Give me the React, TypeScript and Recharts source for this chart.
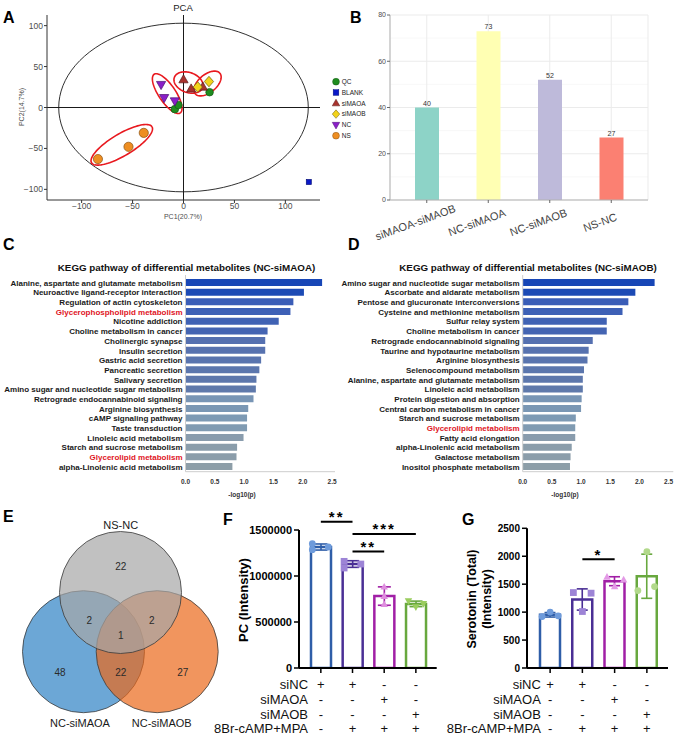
import React from 'react'
import {
  Bar,
  BarChart,
  CartesianGrid,
  Cell,
  ComposedChart,
  ErrorBar,
  LabelList,
  ReferenceLine,
  Scatter,
  ScatterChart,
  XAxis,
  YAxis,
} from 'recharts'

const FONT = '"Liberation Sans", Arial, Helvetica, sans-serif'

// ---- A: PCA scores (PC1 %, PC2 %)
const QC_PTS = [{ x: -8.5, y: -2 }, { x: -5, y: 3 }, { x: 25.6, y: 18.7 }]
const BLANK_PTS = [{ x: 123, y: -91 }]
const SIMAOA_PTS = [{ x: 0, y: 34 }, { x: 7.5, y: 22.7 }, { x: 19, y: 25 }]
const SIMAOB_PTS = [{ x: 14, y: 25 }, { x: 25, y: 31.7 }]
const NC_PTS = [{ x: -22, y: 28 }, { x: -19, y: 12 }, { x: -8.5, y: 8 }]
const NS_PTS = [{ x: -84, y: -63 }, { x: -54, y: -48 }, { x: -39, y: -31 }]
const PCA_TICKS = [-100, -50, 0, 50, 100]

// ellipses: centre + two conjugate semi-axis vectors, in data units
const CONFIDENCE = { cx: 0, cy: 0, ux: 122.5, uy: 0, vx: 0, vy: 103 }
const GROUP_RINGS = [
  { cx: -16, cy: 17, ux: 12.8, uy: -23.6, vx: -6.9, vy: -5.8 },
  { cx: 4.9, cy: 30.5, ux: 13.9, uy: -6.2, vx: -3.3, vy: -11.5 },
  { cx: 23.6, cy: 29.3, ux: 12.1, uy: 12.6, vx: 5.7, vy: -8.4 },
  { cx: -60.6, cy: -45.6, ux: 29.7, uy: 22, vx: 5.5, vy: -11.5 },
]

// ---- B: number of differential metabolites
const B_COMPARISONS = ['siMAOA-siMAOB', 'NC-siMAOA', 'NC-siMAOB', 'NS-NC']
const B_COUNTS = [40, 73, 52, 27]
const B_COLORS = ['#8DD3C7', '#FFFFB3', '#BEBADA', '#FB8072']

// ---- C / D: KEGG enrichment, -log10(p)
const C_PATHWAYS = [
  'Alanine, aspartate and glutamate metabolism',
  'Neuroactive ligand-receptor interaction',
  'Regulation of actin cytoskeleton',
  'Glycerophospholipid metabolism',
  'Nicotine addiction',
  'Choline metabolism in cancer',
  'Cholinergic synapse',
  'Insulin secretion',
  'Gastric acid secretion',
  'Pancreatic secretion',
  'Salivary secretion',
  'Amino sugar and nucleotide sugar metabolism',
  'Retrograde endocannabinoid signaling',
  'Arginine biosynthesis',
  'cAMP signaling pathway',
  'Taste transduction',
  'Linoleic acid metabolism',
  'Starch and sucrose metabolism',
  'Glycerolipid metabolism',
  'alpha-Linolenic acid metabolism',
]
const C_VALUES = [2.33, 2.02, 1.84, 1.79, 1.59, 1.4, 1.36, 1.36, 1.29, 1.26, 1.21, 1.2, 1.16, 1.07, 1.05, 1.05, 0.99, 0.88, 0.87, 0.8]
const D_PATHWAYS = [
  'Amino sugar and nucleotide sugar metabolism',
  'Ascorbate and aldarate metabolism',
  'Pentose and glucuronate interconversions',
  'Cysteine and methionine metabolism',
  'Sulfur relay system',
  'Choline metabolism in cancer',
  'Retrograde endocannabinoid signaling',
  'Taurine and hypotaurine metabolism',
  'Arginine biosynthesis',
  'Selenocompound metabolism',
  'Alanine, aspartate and glutamate metabolism',
  'Linoleic acid metabolism',
  'Protein digestion and absorption',
  'Central carbon metabolism in cancer',
  'Starch and sucrose metabolism',
  'Glycerolipid metabolism',
  'Fatty acid elongation',
  'alpha-Linolenic acid metabolism',
  'Galactose metabolism',
  'Inositol phosphate metabolism',
]
const D_VALUES = [2.26, 1.93, 1.81, 1.71, 1.44, 1.44, 1.2, 1.13, 1.11, 1.05, 1.03, 1.03, 1.01, 1.0, 0.91, 0.9, 0.9, 0.84, 0.82, 0.81]
const HIGHLIGHTED = ['Glycerophospholipid metabolism', 'Glycerolipid metabolism']
const KEGG_TICKS = [0, 0.5, 1, 1.5, 2, 2.5]

// ---- E: Venn counts
const VENN_SETS = ['NC-siMAOA', 'NC-siMAOB', 'NS-NC']
// NS only, NS&A, NS&B, all three, A only, A&B, B only
const VENN_COUNTS = [22, 2, 2, 1, 48, 22, 27]

// ---- F / G: intensities
const GROUPS = ['g1', 'g2', 'g3', 'g4']
const TREATMENTS = ['siNC', 'siMAOA', 'siMAOB', '8Br-cAMP+MPA']
const TREATMENT_SIGNS = [
  ['+', '+', '-', '-'],
  ['-', '-', '+', '-'],
  ['-', '-', '-', '+'],
  ['-', '+', '+', '+'],
]
const F_MEANS = [1315000, 1130000, 782000, 697000]
const F_SDS = [33000, 36000, 100000, 30000]
const F_POINTS = [
  [1351000, 1286000, 1315000],
  [1159000, 1087000, 1130000],
  [880000, 690000, 778000],
  [730000, 665000, 700000],
]
const F_TICKS = [0, 500000, 1000000, 1500000]
const G_MEANS = [952, 1226, 1553, 1642]
const G_SDS = [40, 190, 80, 395]
const G_POINTS = [
  [921, 1000, 934],
  [1350, 1011, 1339],
  [1625, 1457, 1577],
  [1386, 2082, 1457],
]
const G_TICKS = [0, 500, 1000, 1500, 2000, 2500]

// ---- styles
const BOX = '#CDCDCD'
const KEGG_SHADES = [
  '#1746B6', '#1C4AB5', '#3A5DB7', '#3D60B6', '#4062B4', '#4464B2', '#5570B0', '#5772AF', '#5974AE', '#5B76AD',
  '#5D77AC', '#5F79AB', '#7895B5', '#7A97B4', '#7D9AB4', '#809BB2', '#899CAD', '#8A9DAB', '#8B9DAA', '#8D9EA8',
]
const BAR_STROKES = ['#2F5EA8', '#4A2F95', '#A11FA6', '#68A83E']

function Marker({ kind, cx, cy, s, fill, stroke = 'none', sw = 0.6 }: any) {
  if (kind === 'circle') return <circle cx={cx} cy={cy} r={s} fill={fill} stroke={stroke} strokeWidth={sw} />
  if (kind === 'square')
    return <rect x={cx - s} y={cy - s} width={2 * s} height={2 * s} fill={fill} stroke={stroke} strokeWidth={sw} />
  if (kind === 'triangle')
    return (
      <polygon
        points={`${cx},${cy - s * 1.2} ${cx + s * 1.1},${cy + s * 0.75} ${cx - s * 1.1},${cy + s * 0.75}`}
        fill={fill}
        stroke={stroke}
        strokeWidth={sw}
      />
    )
  if (kind === 'triangleDown')
    return (
      <polygon
        points={`${cx},${cy + s * 1.2} ${cx + s * 1.1},${cy - s * 0.75} ${cx - s * 1.1},${cy - s * 0.75}`}
        fill={fill}
        stroke={stroke}
        strokeWidth={sw}
      />
    )
  return (
    <polygon
      points={`${cx},${cy - s * 1.25} ${cx + s * 1.1},${cy} ${cx},${cy + s * 1.25} ${cx - s * 1.1},${cy}`}
      fill={fill}
      stroke={stroke}
      strokeWidth={sw}
    />
  )
}

const PCA_GROUPS = [
  { name: 'QC', data: QC_PTS, kind: 'circle', fill: '#1E8C1E', edge: '#145A14', s: 3.8 },
  { name: 'BLANK', data: BLANK_PTS, kind: 'square', fill: '#0A18C8', edge: '#06107A', s: 2.5 },
  { name: 'siMAOA', data: SIMAOA_PTS, kind: 'triangle', fill: '#A8322D', edge: '#5A1A18', s: 4.2 },
  { name: 'siMAOB', data: SIMAOB_PTS, kind: 'diamond', fill: '#F2D31B', edge: '#6B5A10', s: 4.2 },
  { name: 'NC', data: NC_PTS, kind: 'triangleDown', fill: '#8A1FC8', edge: '#4A1070', s: 4.2 },
  { name: 'NS', data: NS_PTS, kind: 'circle', fill: '#EE8E22', edge: '#8A5214', s: 4.6 },
]

function ring(e: typeof CONFIDENCE) {
  const pts = []
  for (let i = 0; i <= 96; i++) {
    const t = (i / 96) * Math.PI * 2
    pts.push({
      x: e.cx + e.ux * Math.cos(t) + e.vx * Math.sin(t),
      y: e.cy + e.uy * Math.cos(t) + e.vy * Math.sin(t),
    })
  }
  return pts
}

const NoDot = () => <g />
const minus = (v: number) => String(v).replace('-', '\u2212')

function PcaPanel() {
  const axisTick = { fontSize: 8.5, fill: '#4D4D4D' }
  return (
    <ScatterChart width={370} height={225} margin={{ top: 15, right: 50, bottom: 0, left: 0 }}>
      <XAxis
        type="number"
        dataKey="x"
        domain={[-134, 134]}
        ticks={PCA_TICKS}
        allowDataOverflow
        height={25}
        tick={axisTick}
        tickSize={3}
        tickMargin={0}
        tickFormatter={minus}
        axisLine={{ stroke: '#333' }}
        tickLine={{ stroke: '#333' }}
      />
      <YAxis
        type="number"
        dataKey="y"
        domain={[-113, 113]}
        ticks={PCA_TICKS}
        allowDataOverflow
        width={47}
        tick={axisTick}
        tickSize={3}
        tickMargin={1}
        tickFormatter={minus}
        axisLine={{ stroke: '#333' }}
        tickLine={{ stroke: '#333' }}
      />
      <ReferenceLine x={0} stroke="#1a1a1a" strokeWidth={1} />
      <ReferenceLine y={0} stroke="#1a1a1a" strokeWidth={1} />
      <Scatter
        data={ring(CONFIDENCE)}
        line={{ stroke: '#1a1a1a', strokeWidth: 0.9 }}
        shape={NoDot}
        isAnimationActive={false}
        legendType="none"
      />
      {GROUP_RINGS.map((r, i) => (
        <Scatter
          key={i}
          data={ring(r)}
          line={{ stroke: '#E8191F', strokeWidth: 1.6 }}
          shape={NoDot}
          isAnimationActive={false}
          legendType="none"
        />
      ))}
      {PCA_GROUPS.map((g) => (
        <Scatter
          key={g.name}
          name={g.name}
          data={g.data}
          isAnimationActive={false}
          shape={(p: any) => <Marker kind={g.kind} cx={p.cx} cy={p.cy} s={g.s} fill={g.fill} stroke={g.edge} sw={0.7} />}
        />
      ))}
    </ScatterChart>
  )
}

function PcaLegend() {
  return (
    <svg style={{ position: 'absolute', left: 330, top: 75 }} width={45} height={68}>
      {PCA_GROUPS.map((g, i) => (
        <g key={g.name}>
          <Marker kind={g.kind} cx={6} cy={6.7 + i * 10.8} s={g.kind === 'square' ? 2.8 : 3.4} fill={g.fill} stroke={g.edge} sw={0.5} />
          <text x={11.7} y={9 + i * 10.8} fontSize={6.5} fill="#222">
            {g.name}
          </text>
        </g>
      ))}
    </svg>
  )
}

function RotTick({ x, y, payload }: any) {
  const ax = x - 10
  const ay = y + 21
  return (
    <text x={ax} y={ay} textAnchor="middle" fontSize={11} fill="#444" transform={`rotate(-20 ${ax} ${ay})`}>
      {payload.value}
    </text>
  )
}

function CountPanel() {
  const data = B_COMPARISONS.map((name, i) => ({ name, count: B_COUNTS[i] }))
  return (
    <BarChart width={340} height={245} data={data} margin={{ top: 15, right: 32, bottom: 0, left: 0 }} barSize={24}>
      <CartesianGrid stroke="#F3F3F3" strokeWidth={0.6} vertical={false} horizontalValues={[10, 30, 50, 70]} />
      <CartesianGrid stroke="#EBEBEB" strokeWidth={1} />
      <XAxis
        dataKey="name"
        interval={0}
        padding={{ left: 6, right: 6 }}
        height={45}
        tick={<RotTick />}
        tickSize={3}
        tickMargin={2}
        axisLine={{ stroke: '#B3B3B3' }}
        tickLine={{ stroke: '#666' }}
      />
      <XAxis xAxisId="top" orientation="top" dataKey="name" height={0} tick={false} tickLine={false} axisLine={{ stroke: '#B3B3B3' }} />
      <YAxis
        domain={[0, 80]}
        ticks={[0, 20, 40, 60, 80]}
        width={50}
        tick={{ fontSize: 7, fill: '#4D4D4D' }}
        tickSize={3}
        tickMargin={1}
        axisLine={{ stroke: '#B3B3B3' }}
        tickLine={{ stroke: '#666' }}
      />
      <YAxis yAxisId="right" orientation="right" width={0} tick={false} tickLine={false} axisLine={{ stroke: '#B3B3B3' }} />
      <Bar dataKey="count" isAnimationActive={false}>
        {data.map((d, i) => (
          <Cell key={d.name} fill={B_COLORS[i]} />
        ))}
        <LabelList dataKey="count" position="top" offset={2} fontSize={7} fill="#333" />
      </Bar>
    </BarChart>
  )
}

function PathwayTick({ x, y, payload }: any) {
  const red = HIGHLIGHTED.includes(payload.value)
  return (
    <text x={x} y={y} dy={2.9} textAnchor="end" fontSize={8} fontWeight="bold" fill={red ? '#E0141E' : '#1a1a1a'}>
      {payload.value}
    </text>
  )
}

function KeggPanel({ names, values, yWidth, right, max }: any) {
  const data = names.map((name: string, i: number) => ({ name, p: values[i] }))
  return (
    <BarChart layout="vertical" width={340} height={245} data={data} margin={{ top: 13, right, bottom: 0, left: 0 }} barSize={7}>
      <XAxis
        type="number"
        domain={[0, max]}
        ticks={KEGG_TICKS}
        allowDataOverflow
        tickFormatter={(v: number) => v.toFixed(1)}
        height={35.3}
        tickSize={0}
        tickMargin={8}
        tick={{ fontSize: 6.5, fontWeight: 'bold', fill: '#333' }}
        axisLine={{ stroke: BOX }}
      />
      <XAxis xAxisId="top" orientation="top" type="number" domain={[0, max]} height={0} tick={false} tickLine={false} axisLine={{ stroke: BOX }} />
      <YAxis
        type="category"
        dataKey="name"
        width={yWidth}
        interval={0}
        padding={{ top: 3, bottom: 0 }}
        tickSize={0}
        tickMargin={3}
        tick={<PathwayTick />}
        axisLine={{ stroke: BOX }}
      />
      <YAxis yAxisId="right" orientation="right" type="category" dataKey="name" width={0} tick={false} tickLine={false} axisLine={{ stroke: BOX }} />
      <Bar dataKey="p" isAnimationActive={false}>
        {data.map((d: any, i: number) => (
          <Cell key={d.name} fill={KEGG_SHADES[i]} />
        ))}
      </Bar>
    </BarChart>
  )
}

// Venn geometry (chart units are pixels of a 230x238 box)
const VENN_CIRCLES = [
  { x: 83.5, y: 151.7, r: 61, fill: '#2E81C4' },
  { x: 157.2, y: 151.7, r: 61, fill: '#EB6819' },
  { x: 120.5, y: 92.5, r: 61, fill: '#A6A6A6' },
]
const VENN_NAME_POS = [
  { x: 80, y: 223.3 },
  { x: 161.7, y: 223.3 },
  { x: 120.7, y: 25 },
]
const VENN_COUNT_POS = [
  { x: 120.7, y: 66.7 },
  { x: 89.3, y: 120 },
  { x: 151.7, y: 120 },
  { x: 120.7, y: 135.7 },
  { x: 60, y: 172.3 },
  { x: 120.7, y: 172.3 },
  { x: 182.7, y: 172.3 },
]

function VennPanel() {
  const circles = VENN_CIRCLES.map((c, i) => ({ ...c, set: VENN_SETS[i] }))
  const names = VENN_NAME_POS.map((p, i) => ({ ...p, text: VENN_SETS[i] }))
  const counts = VENN_COUNT_POS.map((p, i) => ({ ...p, text: String(VENN_COUNTS[i]) }))
  return (
    <ScatterChart width={230} height={238} margin={{ top: 0, right: 0, bottom: 0, left: 0 }}>
      <XAxis type="number" dataKey="x" domain={[0, 230]} hide />
      <YAxis type="number" dataKey="y" domain={[0, 238]} reversed hide />
      <Scatter
        data={circles}
        isAnimationActive={false}
        shape={(p: any) => (
          <circle cx={p.cx} cy={p.cy} r={p.payload.r} fill={p.payload.fill} fillOpacity={0.7} stroke="#3A3A3A" strokeWidth={0.8} />
        )}
      />
      <Scatter
        data={counts}
        isAnimationActive={false}
        shape={(p: any) => (
          <text x={p.cx} y={p.cy} dy={3.6} textAnchor="middle" fontSize={10} fill="#2a2a2a">
            {p.payload.text}
          </text>
        )}
      />
      <Scatter
        data={names}
        isAnimationActive={false}
        shape={(p: any) => (
          <text x={p.cx} y={p.cy} dy={4} textAnchor="middle" fontSize={11} fill="#1a1a1a">
            {p.payload.text}
          </text>
        )}
      />
    </ScatterChart>
  )
}

const ROW_DY = [16.2, 31.2, 46.2, 60.2]

function SignTick({ x, y, payload, labelDx }: any) {
  const gi = GROUPS.indexOf(payload.value)
  return (
    <g>
      {TREATMENT_SIGNS.map((row, r) => (
        <text key={r} x={x} y={y + ROW_DY[r]} textAnchor="middle" fontSize={13} fill="#111">
          {row[gi]}
        </text>
      ))}
      {gi === 0 &&
        TREATMENTS.map((t, r) => (
          <text key={t} x={x + labelDx} y={y + ROW_DY[r]} textAnchor="end" fontSize={13} fill="#111">
            {t}
          </text>
        ))}
    </g>
  )
}

const sigLabel = (text: string) => (props: any) => {
  const vb = props.viewBox
  return (
    <text x={vb.x + vb.width / 2} y={vb.y + 0.5} textAnchor="middle" fontSize={15} fontWeight="bold" letterSpacing={2} fill="#000">
      {text}
    </text>
  )
}

const F_CFG = {
  width: 235,
  yWidth: 94,
  top: 30,
  right: 3.3,
  domain: [0, 1500000],
  ticks: F_TICKS,
  tickFont: 11,
  padding: { left: 6, right: 5 },
  labelDx: -12.8,
  cap: 6.5,
  means: F_MEANS,
  sds: F_SDS,
  points: F_POINTS,
  marks: ['circle', 'square', 'triangle', 'triangleDown'],
  pointFills: ['#6E9BDB', '#9D84D6', '#DE8EDE', '#9ACD5E'],
  jitter: [
    [-8.5, -8.5, 7.5],
    [-8.4, -8.4, 8.3],
    [0, 0, 0],
    [-7.4, 0, 7.6],
  ],
  sig: [
    { from: 'g1', to: 'g2', y: 1590000, text: '**' },
    { from: 'g2', to: 'g4', y: 1457000, text: '***' },
    { from: 'g2', to: 'g3', y: 1265000, text: '**' },
  ],
}

const G_CFG = {
  width: 237,
  yWidth: 89,
  top: 28.3,
  right: 7,
  domain: [0, 2500],
  ticks: G_TICKS,
  tickFont: 10,
  padding: { left: 7, right: 5 },
  labelDx: -9.3,
  cap: 5.5,
  means: G_MEANS,
  sds: G_SDS,
  points: G_POINTS,
  marks: ['circle', 'square', 'triangle', 'circle'],
  pointFills: ['#6E9BDB', '#9D84D6', '#E39AE6', '#B2D98B'],
  jitter: [
    [-8, 0, 8],
    [-9, 0, 8.7],
    [-7.6, 0, 9],
    [-9, 0, 7.7],
  ],
  sig: [{ from: 'g2', to: 'g3', y: 1946, text: '*' }],
}

function IntensityPanel({ cfg }: any) {
  const rows = GROUPS.map((g, i) => {
    const row: Record<string, any> = { group: g }
    row[`m${i}`] = cfg.means[i]
    row[`e${i}`] = cfg.sds[i]
    cfg.points[i].forEach((v: number, r: number) => {
      row[`p${r}`] = v
    })
    return row
  })
  return (
    <ComposedChart width={cfg.width} height={238} data={rows} margin={{ top: cfg.top, right: cfg.right, bottom: 0, left: 0 }}>
      <XAxis
        dataKey="group"
        interval={0}
        height={70}
        padding={cfg.padding}
        tickSize={5}
        tickMargin={0}
        axisLine={{ stroke: '#000', strokeWidth: 2 }}
        tickLine={{ stroke: '#000', strokeWidth: 1.5 }}
        tick={<SignTick labelDx={cfg.labelDx} />}
      />
      <YAxis
        type="number"
        domain={cfg.domain}
        ticks={cfg.ticks}
        allowDataOverflow
        width={cfg.yWidth}
        tickSize={5}
        tickMargin={2}
        axisLine={{ stroke: '#000', strokeWidth: 2 }}
        tickLine={{ stroke: '#000', strokeWidth: 1.5 }}
        tick={{ fontSize: cfg.tickFont, fontWeight: 'bold', fill: '#000' }}
      />
      {GROUPS.map((g, i) => (
        <Bar
          key={g}
          dataKey={`m${i}`}
          stackId="mean"
          barSize={20}
          fill="#FFFFFF"
          stroke={BAR_STROKES[i]}
          strokeWidth={2.5}
          isAnimationActive={false}
        >
          <ErrorBar dataKey={`e${i}`} width={cfg.cap} stroke={BAR_STROKES[i]} strokeWidth={1.6} />
        </Bar>
      ))}
      {[0, 1, 2].map((r) => (
        <Scatter
          key={r}
          dataKey={`p${r}`}
          isAnimationActive={false}
          shape={(p: any) => {
            const gi = GROUPS.indexOf(p.payload.group)
            return (
              <Marker
                kind={cfg.marks[gi]}
                cx={p.cx + cfg.jitter[gi][r]}
                cy={p.cy}
                s={3.4}
                fill={cfg.pointFills[gi]}
              />
            )
          }}
        />
      ))}
      {cfg.sig.map((s: any) => (
        <ReferenceLine
          key={s.from + s.to}
          segment={[
            { x: s.from, y: s.y },
            { x: s.to, y: s.y },
          ]}
          ifOverflow="visible"
          stroke="#000"
          strokeWidth={2}
          label={sigLabel(s.text)}
        />
      ))}
    </ComposedChart>
  )
}

function Annotations() {
  const letter = { fontSize: 16, fontWeight: 'bold' as const, fill: '#000' }
  return (
    <svg style={{ position: 'absolute', left: 0, top: 0, pointerEvents: 'none' }} width={680} height={738}>
      <text x={3} y={23} {...letter}>A</text>
      <text x={350} y={23} {...letter}>B</text>
      <text x={3} y={250} {...letter}>C</text>
      <text x={348} y={250} {...letter}>D</text>
      <text x={3} y={522} {...letter}>E</text>
      <text x={223} y={525} {...letter}>F</text>
      <text x={462} y={525} {...letter}>G</text>

      <text x={183} y={10.5} textAnchor="middle" fontSize={9.5} fill="#222">PCA</text>
      <text x={183} y={218.5} textAnchor="middle" fontSize={7} fill="#4D4D4D">PC1(20.7%)</text>
      <text transform="translate(22,107) rotate(-90)" textAnchor="middle" dy="0.35em" fontSize={7} fill="#4D4D4D">
        PC2(14.7%)
      </text>

      <text x={186.5} y={271} textAnchor="middle" fontSize={9.8} fontWeight="bold" fill="#111">
        KEGG pathway of differential metabolites (NC-siMAOA)
      </text>
      <text x={528} y={270.5} textAnchor="middle" fontSize={9.8} fontWeight="bold" fill="#111">
        KEGG pathway of differential metabolites (NC-siMAOB)
      </text>
      <text x={242} y={496.5} textAnchor="middle" fontSize={6.5} fontWeight="bold" fill="#333">-log10(p)</text>
      <text x={565} y={496.5} textAnchor="middle" fontSize={6.5} fontWeight="bold" fill="#333">-log10(p)</text>

      <text transform="translate(243,600) rotate(-90)" textAnchor="middle" dy="0.35em" fontSize={13} fontWeight="bold" fill="#000">
        PC (Intensity)
      </text>
      <text transform="translate(471.7,599) rotate(-90)" textAnchor="middle" dy="0.35em" fontSize={12.5} fontWeight="bold" fill="#000">
        Serotonin (Total)
      </text>
      <text transform="translate(486.7,599) rotate(-90)" textAnchor="middle" dy="0.35em" fontSize={12.5} fontWeight="bold" fill="#000">
        (Intensity)
      </text>
    </svg>
  )
}

export default function App() {
  return (
    <div
      style={{
        position: 'absolute',
        left: 0,
        top: 0,
        width: 680,
        height: 738,
        background: '#fff',
        fontFamily: FONT,
        overflow: 'hidden',
      }}
    >
      <div style={{ position: 'absolute', left: 0, top: 0 }}>
        <PcaPanel />
      </div>
      <PcaLegend />
      <div style={{ position: 'absolute', left: 340, top: 0 }}>
        <CountPanel />
      </div>
      <div style={{ position: 'absolute', left: 0, top: 262 }}>
        <KeggPanel names={C_PATHWAYS} values={C_VALUES} yWidth={185.5} right={5} max={2.55} />
      </div>
      <div style={{ position: 'absolute', left: 340, top: 262 }}>
        <KeggPanel names={D_PATHWAYS} values={D_VALUES} yWidth={182.7} right={6.7} max={2.58} />
      </div>
      <div style={{ position: 'absolute', left: 0, top: 500 }}>
        <VennPanel />
      </div>
      <div style={{ position: 'absolute', left: 205, top: 500 }}>
        <IntensityPanel cfg={F_CFG} />
      </div>
      <div style={{ position: 'absolute', left: 438, top: 500 }}>
        <IntensityPanel cfg={G_CFG} />
      </div>
      <Annotations />
    </div>
  )
}
